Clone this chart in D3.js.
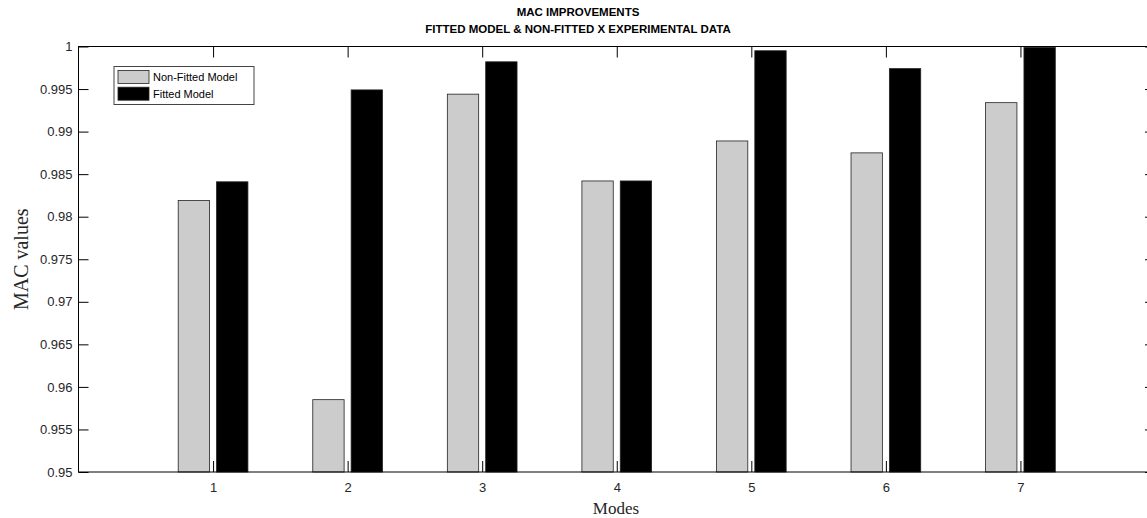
<!DOCTYPE html>
<html>
<head>
<meta charset="utf-8">
<script src="https://cdn.jsdelivr.net/npm/d3@7"></script>
<style>
  body { margin: 0; background: #fff; }
  svg { display: block; }
</style>
</head>
<body>
<svg id="chart"></svg>
<script>
// values
let modes = [1, 2, 3, 4, 5, 6, 7];
let seriesNames = ["Non-Fitted Model", "Fitted Model"];
let nonFitted = [0.9819, 0.9585, 0.9944, 0.9842, 0.9889, 0.9875, 0.9934];
let fitted = [0.9841, 0.9949, 0.9982, 0.9842, 0.9995, 0.9974, 0.9999];
let yTicks = [0.95, 0.955, 0.96, 0.965, 0.97, 0.975, 0.98, 0.985, 0.99, 0.995, 1];
let colors = ["#cccccc", "#000000"];

let width = 1147, height = 518;
let margin = ({top: 46.5, right: -8, bottom: 46, left: 78.5});
let innerBottom = height - margin.bottom;
let innerRight = width - margin.right;

const svg = d3.select('#chart').attr('width', width).attr('height', height);
svg.append('rect').attr('width', width).attr('height', height).attr('fill', '#fff');

let x = d3.scaleLinear()
  .domain([0, 8])
  .range([margin.left, innerRight]);

let y = d3.scaleLinear()
  .domain([0.95, 1])
  .range([innerBottom, margin.top]);

let unit = x(1) - x(0);
let inner = d3.scaleBand()
  .domain(seriesNames)
  .range([-0.259 * unit, 0.259 * unit])
  .paddingInner(0.183)
  .paddingOuter(0);

let table = modes.map((m, i) => ({mode: m, values: [
  {name: seriesNames[0], value: nonFitted[i]},
  {name: seriesNames[1], value: fitted[i]}
]}));

// bars
const groups = svg.selectAll('.group')
  .data(table)
  .enter().append('g')
  .attr('class', 'group')
  .attr('transform', d => `translate(${x(d.mode)},0)`);

groups.selectAll('rect')
  .data(d => d.values)
  .enter().append('rect')
  .attr('x', d => inner(d.name))
  .attr('y', d => y(d.value))
  .attr('width', inner.bandwidth())
  .attr('height', d => y(0.95) - y(d.value))
  .attr('fill', (d, i) => colors[i])
  .attr('stroke', '#222')
  .attr('stroke-width', 0.8);

let fmt = d => String(+d.toFixed(3));

let styleAxis = g => {
  g.select('.domain').remove();
  g.selectAll('line').attr('stroke', '#000');
  g.selectAll('text')
    .attr('fill', '#262626')
    .attr('font-family', 'Liberation Sans, Arial, sans-serif')
    .attr('font-size', 13);
};

// left axis with inward ticks
svg.append('g')
  .attr('transform', `translate(${margin.left},0)`)
  .call(d3.axisLeft(y).tickValues(yTicks).tickFormat(fmt).tickSizeInner(-10).tickSizeOuter(0).tickPadding(6))
  .call(styleAxis);

// right axis ticks only
svg.append('g')
  .attr('transform', `translate(${innerRight},0)`)
  .call(d3.axisRight(y).tickValues(yTicks).tickFormat('').tickSizeInner(-10).tickSizeOuter(0))
  .call(styleAxis);

// bottom axis
svg.append('g')
  .attr('transform', `translate(0,${innerBottom})`)
  .call(d3.axisBottom(x).tickValues(modes).tickFormat(d3.format('d')).tickSizeInner(-11).tickSizeOuter(0).tickPadding(11))
  .call(styleAxis);

// top axis ticks only
svg.append('g')
  .attr('transform', `translate(0,${margin.top})`)
  .call(d3.axisTop(x).tickValues(modes).tickFormat('').tickSizeInner(-11).tickSizeOuter(0))
  .call(styleAxis);

// box
svg.append('rect')
  .attr('x', margin.left)
  .attr('y', margin.top)
  .attr('width', innerRight - margin.left)
  .attr('height', innerBottom - margin.top)
  .attr('fill', 'none')
  .attr('stroke', '#000')
  .attr('stroke-width', 1);

// title
const title = svg.append('text')
  .attr('text-anchor', 'middle')
  .attr('font-family', 'Liberation Sans, Arial, sans-serif')
  .attr('font-weight', 'bold')
  .attr('font-size', 11.5)
  .attr('fill', '#000');
title.append('tspan').attr('x', 578).attr('y', 16).text('MAC IMPROVEMENTS');
title.append('tspan').attr('x', 578).attr('y', 33).text('FITTED MODEL & NON-FITTED X EXPERIMENTAL DATA');

// axis labels
svg.append('text')
  .attr('x', 616)
  .attr('y', 514)
  .attr('text-anchor', 'middle')
  .attr('font-family', 'Liberation Serif, Times New Roman, serif')
  .attr('font-size', 17)
  .attr('fill', '#262626')
  .text('Modes');

svg.append('text')
  .attr('transform', `translate(28,${(margin.top + innerBottom) / 2}) rotate(-90)`)
  .attr('text-anchor', 'middle')
  .attr('font-family', 'Liberation Serif, Times New Roman, serif')
  .attr('font-size', 20)
  .attr('fill', '#262626')
  .text('MAC values');

// legend
const legend = svg.append('g').attr('transform', 'translate(114,66.5)');
legend.append('rect')
  .attr('width', 140).attr('height', 38)
  .attr('fill', '#fff').attr('stroke', '#444').attr('stroke-width', 1);
const items = legend.selectAll('.item')
  .data(seriesNames)
  .enter().append('g')
  .attr('class', 'item')
  .attr('transform', (d, i) => `translate(4,${4 + i * 16.7})`);
items.append('rect')
  .attr('width', 31).attr('height', 13)
  .attr('fill', (d, i) => colors[i])
  .attr('stroke', '#222').attr('stroke-width', 0.8);
items.append('text')
  .attr('x', 35).attr('y', 7)
  .attr('dy', '0.35em')
  .attr('font-family', 'Liberation Sans, Arial, sans-serif')
  .attr('font-size', 11)
  .attr('fill', '#000')
  .text(d => d);
</script>
</body>
</html>
